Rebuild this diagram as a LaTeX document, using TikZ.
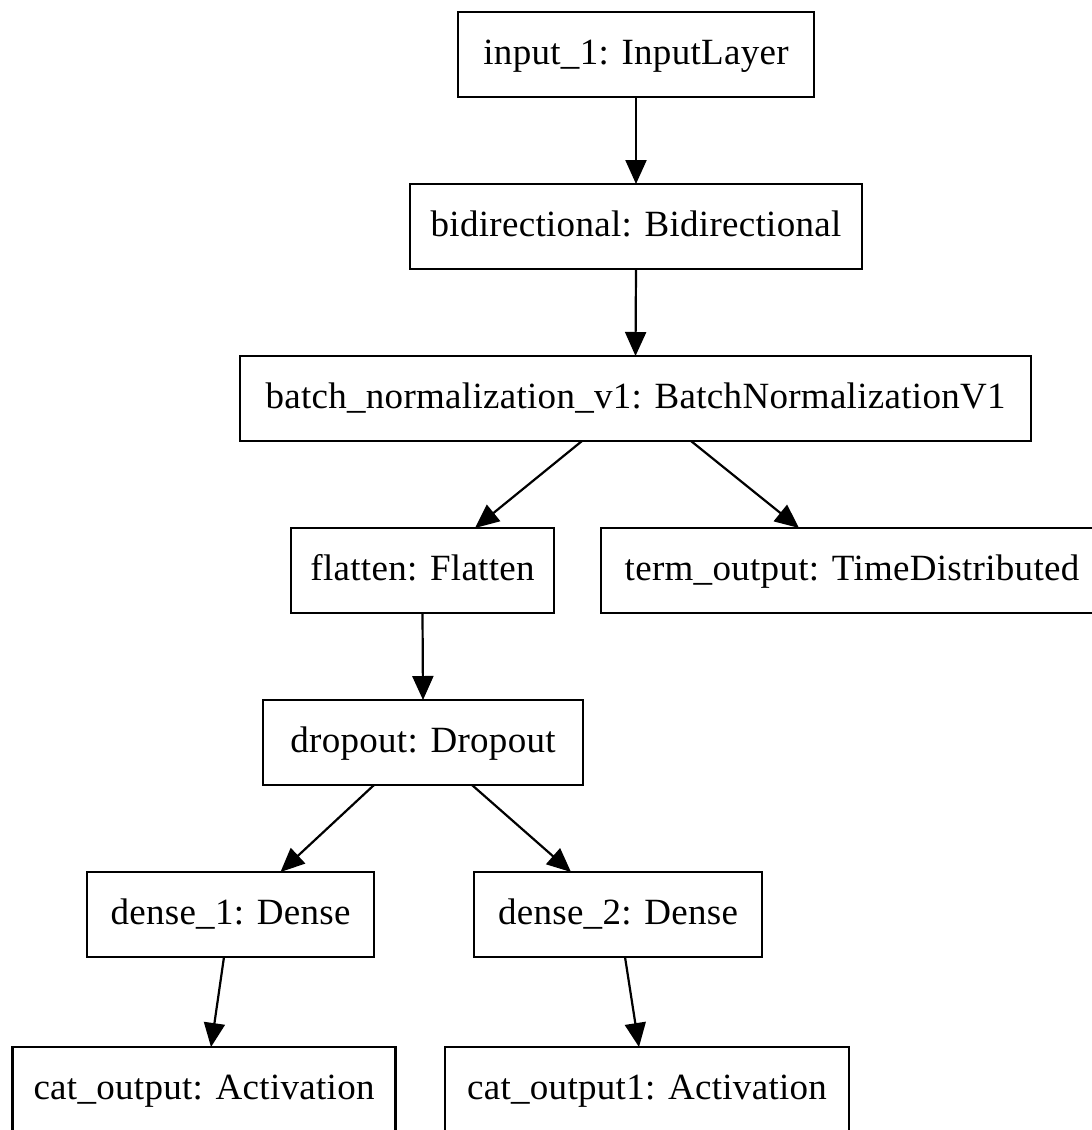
\documentclass[tikz,border=0pt]{standalone}
\usepackage{fontspec}
\setmainfont{Liberation Serif}
\usetikzlibrary{arrows.meta}
\begin{document}
\begin{tikzpicture}[x=0.5pt,y=-0.5pt,
  layer/.style={draw=black, line width=1.1pt, rectangle, inner sep=0pt, outer sep=0pt,
    minimum height=42.5pt, text height=12.5pt, text depth=2.5pt,
    font=\fontsize{18.5}{21}\selectfont\addfontfeatures{LetterSpace=0.8}},
  flow/.style={draw=black, line width=1.1pt, -{Triangle[length=12pt,width=10.5pt]}}]
% page frame: the outer boxes run past the right and bottom edges
\path[use as bounding box, clip] (0,0) rectangle (1092,1130);
\fill[white] (0,0) rectangle (1092,1130);

% layers
\node[layer, minimum width=178pt]   (input)   at (636,54.5)    {input\_1: InputLayer};
\node[layer, minimum width=226pt]   (bidir)   at (636,226.5)   {bidirectional: Bidirectional};
\node[layer, minimum width=395.5pt] (batch)   at (635.5,398.5) {batch\_normalization\_v1: BatchNormalizationV1};
\node[layer, minimum width=131.5pt] (flatten) at (422.5,570.5) {flatten: Flatten};
\node[layer, minimum width=251pt]   (term)    at (852,570.5)   {term\_output: TimeDistributed};
\node[layer, minimum width=160pt]   (dropout) at (423,742.5)   {dropout: Dropout};
\node[layer, minimum width=143.5pt] (dense1)  at (230.5,914.5) {dense\_1: Dense};
\node[layer, minimum width=144pt]   (dense2)  at (618,914.5)   {dense\_2: Dense};
\node[layer, minimum width=191.5pt] (cat)     at (204,1089.5)  {cat\_output: Activation};
\node[layer, minimum width=202pt]   (cat1)    at (647,1089.5)  {cat\_output1: Activation};

% data flow
\draw[flow] (input.south) -- (bidir.north);
\draw[flow] (bidir.south) -- (batch.north);
\draw[flow] ([xshift=-26.75pt]batch.south) -- ([xshift=26.25pt]flatten.north);
\draw[flow] ([xshift=27.75pt]batch.south) -- ([xshift=-26.5pt]term.north);
\draw[flow] (flatten.south) -- (dropout.north);
\draw[flow] ([xshift=-24.5pt]dropout.south) -- ([xshift=25pt]dense1.north);
\draw[flow] ([xshift=24.5pt]dropout.south) -- ([xshift=-23.5pt]dense2.north);
\draw[flow] ([xshift=-3.25pt]dense1.south) -- ([xshift=3.5pt]cat.north);
\draw[flow] ([xshift=3.5pt]dense2.south) -- ([xshift=-4pt]cat1.north);
\end{tikzpicture}
\end{document}
